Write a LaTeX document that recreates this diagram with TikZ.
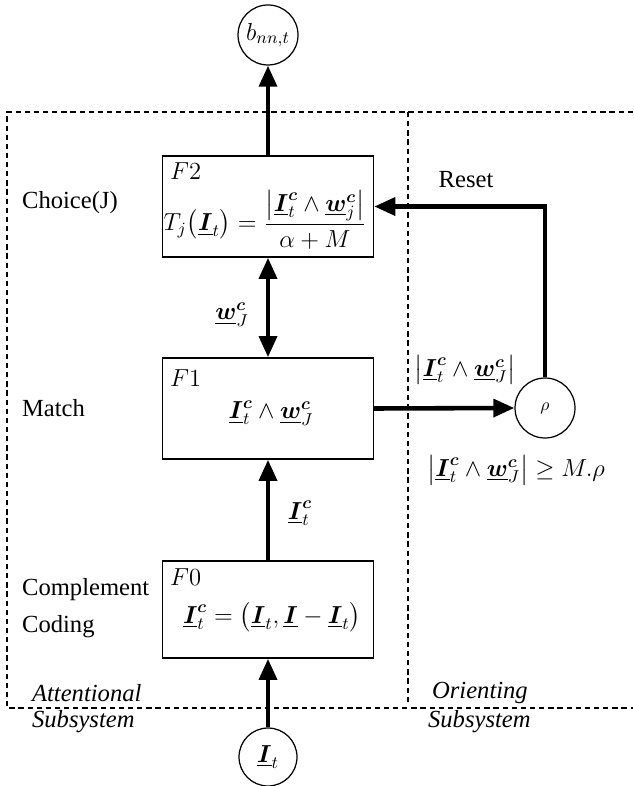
\RequirePackage{fix-cm}
\documentclass[tikz,border=0pt]{standalone}
\usepackage{amsmath,amssymb}
\usepackage{fontspec}
\setmainfont{Liberation Serif}
\usetikzlibrary{arrows.meta,positioning,calc}

\newcommand{\vI}{\underline{\boldsymbol{I}}}
\newcommand{\vw}{\underline{\boldsymbol{w}}}

\tikzset{
  capa/.style={draw,line width=0.8pt,minimum width=4.22cm,minimum height=2.02cm,inner sep=0pt},
  nodo/.style={draw,circle,line width=0.7pt,minimum size=1.2cm,inner sep=0pt},
  punta/.tip={Triangle[width=10pt,length=12pt]},
  flujo/.style={line width=2.6pt,-punta},
  borde/.style={line width=0.6pt,dash pattern=on 3pt off 2.2pt},
  etiq/.style={font=\fontsize{14}{16}\selectfont,inner sep=1pt},
  etiqit/.style={font=\fontsize{14}{16}\selectfont\itshape,inner sep=1pt},
}

\begin{document}
\begin{tikzpicture}[x=0.02cm,y=-0.02cm,line join=miter]
  \useasboundingbox (0,0) rectangle (633,786);
  % --- subsistemas (lineas rayadas) ---
  \draw[borde] (633,112) -- (7,112) -- (7,708) -- (633,708);
  \draw[borde] (408,112) -- (408,702);
  % --- capas F2, F1, F0 ---
  \node[capa] (F2) at (268,206.5) {};
  \node[capa] (F1) at (268,408.5) {};
  \node[capa,minimum height=1.94cm] (F0) at (268,609.5) {};
  \node[etiq,anchor=west] (tF2) at (168,171) {$F2$};
  \node[etiq,anchor=west] (tF1) at (168,378) {$F1$};
  \node[etiq,anchor=west] (tF0) at (168,577) {$F0$};
  \node[etiq] (eqF2) at (265,220)
       {$T_j\bigl(\vI_t\bigr)=\dfrac{\bigl|\vI_t^{\boldsymbol c}\wedge\vw_j^{\boldsymbol c}\bigr|}{\alpha+M}$};
  \node[etiq] (eqF1) at (271,413) {$\vI_t^{\boldsymbol c}\wedge\vw_J^{\boldsymbol c}$};
  \node[etiq] (eqF0) at (272,617) {$\vI_t^{\boldsymbol c}=\bigl(\vI_t,\vI-\vI_t\bigr)$};
  % --- nombres a la izquierda ---
  \node[etiq,anchor=west] (choice) at (20,203) {Choice(J)};
  \node[etiq,anchor=west] (match) at (20,408) {Match};
  \node[etiq,anchor=west] (compl) at (20,590) {Complement};
  \node[etiq,anchor=west] (coding) at (20,627) {Coding};
  \node[etiqit,anchor=west] (aten) at (30,693) {Attentional};
  \node[etiqit,anchor=west] (atsub) at (30,722) {Subsystem};
  \node[etiqit,anchor=west] (orien) at (430,693) {Orienting};
  \node[etiqit,anchor=west] (orsub) at (426,722) {Subsystem};
  % --- nodos circulares ---
  \node[nodo,etiq,inner sep=0pt] (b) at (268,35) {$b_{nn,t}$};
  \node[nodo] (rho) at (545,408) {$\rho$};
  \node[nodo,etiq,inner sep=0pt,minimum size=1.16cm] (It) at (268,757) {$\vI_t$};
  % --- conexiones ---
  \draw[flujo] (F2) -- (b);
  \draw[line width=2.6pt,punta-punta] (F1) -- (F2);
  \draw[flujo] (F0) -- (F1);
  \draw[flujo] (It) -- (F0);
  \draw[flujo] (F1.east) -- (rho.west);
  \draw[flujo] (rho.north) |- (F2.east);
  % --- etiquetas de las conexiones ---
  \node[etiq] (lw) at (232,315) {$\vw_J^{\boldsymbol c}$};
  \node[etiq] (lI) at (300,513) {$\vI_t^{\boldsymbol c}$};
  \node[etiq] (lmatch) at (465,370) {$\bigl|\vI_t^{\boldsymbol c}\wedge\vw_J^{\boldsymbol c}\bigr|$};
  \node[etiq] (lvig) at (516,470) {$\bigl|\vI_t^{\boldsymbol c}\wedge\vw_J^{\boldsymbol c}\bigr|\geq M.\rho$};
  \node[etiq] (reset) at (466,180) {Reset};
\end{tikzpicture}
\end{document}
